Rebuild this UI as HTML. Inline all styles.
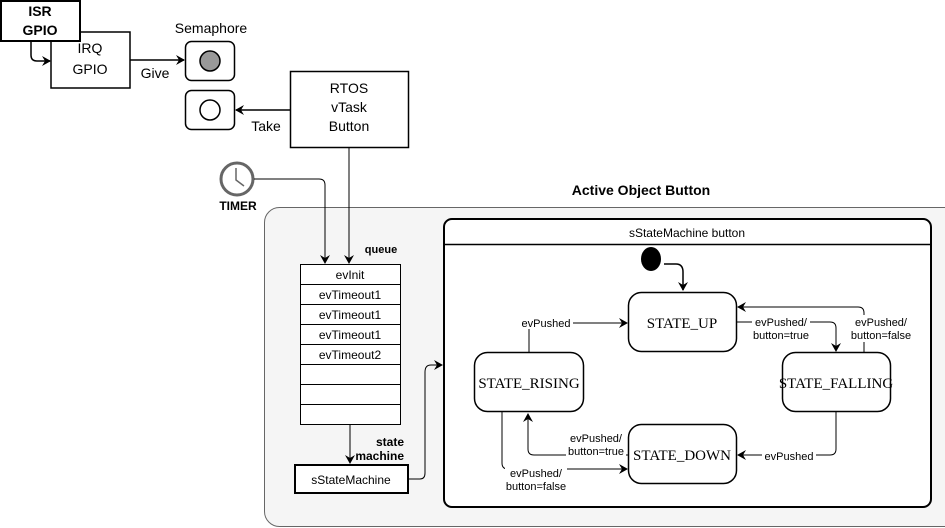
<!DOCTYPE html>
<html><head><meta charset="utf-8"><style>
html,body{margin:0;padding:0;background:#fff;}
svg{display:block;font-family:"Liberation Sans",sans-serif;}
.s{font-family:"Liberation Serif",serif;font-size:15px;}
.l{font-size:11px;}
</style></head><body>
<svg width="945" height="528" viewBox="0 0 945 528" xmlns="http://www.w3.org/2000/svg">
<defs>
<marker id="a" markerWidth="10" markerHeight="10" refX="8" refY="5" orient="auto" markerUnits="userSpaceOnUse">
<path d="M0,0 L9,5 L0,10 L3,5 Z" fill="#000"/></marker>
</defs>
<!-- Active object container -->
<rect x="264.5" y="207.5" width="695" height="319" rx="15" fill="#f5f5f5" stroke="#666"/>
<text x="641" y="195" font-size="14" font-weight="bold" text-anchor="middle">Active Object Button</text>

<!-- IRQ GPIO -->
<rect x="51" y="32" width="79" height="56" fill="#fff" stroke="#000" stroke-width="1.5"/>
<text x="90" y="53" font-size="14" text-anchor="middle">IRQ</text>
<text x="90" y="74" font-size="14" text-anchor="middle">GPIO</text>
<rect x="1" y="1" width="79" height="40" fill="#fff" stroke="#000" stroke-width="2"/>
<text x="40" y="16" font-size="14" font-weight="bold" text-anchor="middle">ISR</text>
<text x="40" y="35" font-size="14" font-weight="bold" text-anchor="middle">GPIO</text>
<path d="M31,41 L31,55 Q31,61 37,61 L50,61" fill="none" stroke="#000" stroke-width="1.5" marker-end="url(#a)"/>
<path d="M130,60 L184,60" stroke="#000" stroke-width="1.5" marker-end="url(#a)"/>
<text x="155" y="78" font-size="14" text-anchor="middle">Give</text>
<text x="211" y="33" font-size="14" text-anchor="middle">Semaphore</text>
<rect x="185.5" y="41.5" width="49" height="39" rx="6" fill="#fff" stroke="#000" stroke-width="1.5"/>
<circle cx="210" cy="61" r="10" fill="#999" stroke="#000" stroke-width="1.5"/>
<rect x="185.5" y="90.5" width="49" height="39" rx="6" fill="#fff" stroke="#000" stroke-width="1.5"/>
<circle cx="210" cy="110" r="10" fill="#fff" stroke="#000" stroke-width="1.5"/>
<rect x="290.5" y="71.5" width="118" height="76" fill="#fff" stroke="#000" stroke-width="1.5"/>
<text x="349" y="93" font-size="14" text-anchor="middle">RTOS</text>
<text x="349" y="112" font-size="14" text-anchor="middle">vTask</text>
<text x="349" y="131" font-size="14" text-anchor="middle">Button</text>
<path d="M290,110 L236,110" stroke="#000" stroke-width="1.5" marker-end="url(#a)"/>
<text x="266" y="131" font-size="14" text-anchor="middle">Take</text>

<!-- Timer -->
<circle cx="237" cy="179" r="16" fill="#fff" stroke="#666" stroke-width="3"/>
<path d="M236,168 L236,180 L244,186" fill="none" stroke="#666" stroke-width="1.5"/>
<text x="238" y="210" font-size="12" font-weight="bold" text-anchor="middle">TIMER</text>
<path d="M254,179 L319,179 Q325,179 325,185 L325,263" fill="none" stroke="#000" marker-end="url(#a)"/>
<path d="M349,147 L349,263" fill="none" stroke="#000" marker-end="url(#a)"/>
<text x="381" y="253" font-size="11" font-weight="bold" text-anchor="middle">queue</text>

<!-- queue -->
<g stroke="#000" fill="#fff">
<rect x="300.5" y="264.5" width="100" height="160"/>
<path d="M300,284.5H400M300,304.5H400M300,324.5H400M300,344.5H400M300,364.5H400M300,384.5H400M300,404.5H400"/>
</g>
<g font-size="12" text-anchor="middle">
<text x="350" y="279">evInit</text>
<text x="350" y="299">evTimeout1</text>
<text x="350" y="319">evTimeout1</text>
<text x="350" y="339">evTimeout1</text>
<text x="350" y="359">evTimeout2</text>
</g>
<path d="M350,424 L350,463" stroke="#000" marker-end="url(#a)"/>
<text x="404" y="446" font-size="12" font-weight="bold" text-anchor="end">state</text>
<text x="404" y="460" font-size="12" font-weight="bold" text-anchor="end">machine</text>
<rect x="295" y="465" width="113" height="28" fill="#fff" stroke="#000" stroke-width="2"/>
<text x="351" y="484" font-size="12" text-anchor="middle">sStateMachine</text>
<path d="M408,479 L420,479 Q425,479 425,473 L425,372 Q425,365 431,365 L442,365" fill="none" stroke="#000" marker-end="url(#a)"/>

<!-- state machine container -->
<rect x="444" y="219" width="487" height="288" rx="8" fill="#fff" stroke="#000" stroke-width="2"/>
<path d="M444,244.5H931" stroke="#000" stroke-width="1.5"/>
<text x="687" y="237" font-size="12" text-anchor="middle">sStateMachine button</text>
<ellipse cx="651" cy="259" rx="10" ry="12" fill="#000"/>
<path d="M664,264 L676,264 Q683,264 683,272 L683,290" fill="none" stroke="#000" stroke-width="1.5" marker-end="url(#a)"/>

<g fill="#fff" stroke="#000" stroke-width="1.5">
<rect x="628.5" y="292.5" width="108" height="59" rx="13"/>
<rect x="474.5" y="352.5" width="109" height="59" rx="13"/>
<rect x="782.5" y="352.5" width="108" height="59" rx="13"/>
<rect x="628.5" y="424.5" width="108" height="59" rx="13"/>
</g>
<text class="s" x="682" y="328" text-anchor="middle">STATE_UP</text>
<text class="s" x="529" y="388" text-anchor="middle">STATE_RISING</text>
<text class="s" x="836" y="388" text-anchor="middle">STATE_FALLING</text>
<text class="s" x="682" y="460" text-anchor="middle">STATE_DOWN</text>

<g fill="none" stroke="#000">
<path d="M529,352 L529,323 L627,323" marker-end="url(#a)"/>
<path d="M736,322 L830,322 Q836,322 836,328 L836,351" marker-end="url(#a)"/>
<path d="M864,352 L864,313 Q864,307 858,307 L738,307" marker-end="url(#a)"/>
<path d="M836,412 L836,449 Q836,455 830,455 L738,455" marker-end="url(#a)"/>
<path d="M628,455 L534,455 Q528,455 528,449 L528,414" marker-end="url(#a)"/>
<path d="M502,412 L502,463 Q502,469 508,469 L627,469" marker-end="url(#a)"/>
</g>
<g class="l" text-anchor="middle">
<rect x="519" y="316" width="54" height="13" fill="#fff"/>
<text x="546" y="327">evPushed</text>
<rect x="752" y="315" width="58" height="27" fill="#fff"/>
<text x="781" y="326">evPushed/</text><text x="781" y="339">button=true</text>
<rect x="850" y="315" width="62" height="27" fill="#fff"/>
<text x="881" y="326">evPushed/</text><text x="881" y="339">button=false</text>
<rect x="762" y="449" width="54" height="13" fill="#fff"/>
<text x="789" y="460">evPushed</text>
<rect x="566" y="431" width="60" height="27" fill="#fff"/>
<text x="596" y="442">evPushed/</text><text x="596" y="455">button=true</text>
<rect x="505" y="463" width="62" height="27" fill="#fff"/>
<text x="536" y="477">evPushed/</text><text x="536" y="490">button=false</text>
</g>
</svg>
</body></html>
